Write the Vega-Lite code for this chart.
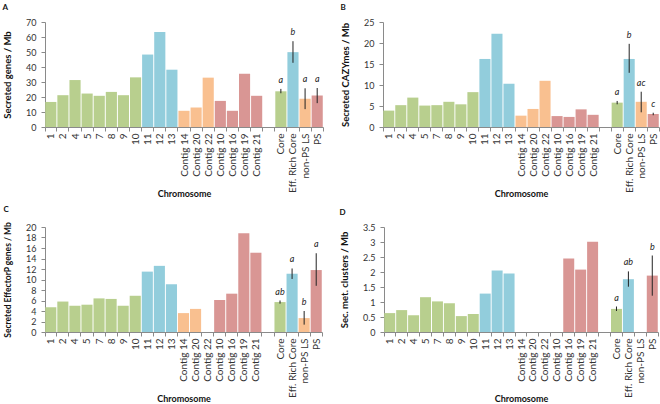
{
  "$schema": "https://vega.github.io/schema/vega-lite/v6.json",
  "padding": {"left": 2, "top": 4, "right": 2, "bottom": 0},
  "background": "white",
  "datasets": {
    "A": [
      {"c": "1", "g": "green", "v": 16.7}, {"c": "2", "g": "green", "v": 21.2}, {"c": "4", "g": "green", "v": 31.3}, {"c": "5", "g": "green", "v": 22.3},
      {"c": "7", "g": "green", "v": 20.8}, {"c": "8", "g": "green", "v": 23.4}, {"c": "9", "g": "green", "v": 21.2}, {"c": "10", "g": "green", "v": 33.1},
      {"c": "11", "g": "blue", "v": 48.3}, {"c": "12", "g": "blue", "v": 63.4}, {"c": "13", "g": "blue", "v": 38.2},
      {"c": "Contig 14", "g": "orange", "v": 10.8}, {"c": "Contig 20", "g": "orange", "v": 13.0}, {"c": "Contig 22", "g": "orange", "v": 32.9},
      {"c": "Contig 10", "g": "red", "v": 17.4}, {"c": "Contig 16", "g": "red", "v": 10.8}, {"c": "Contig 19", "g": "red", "v": 35.5}, {"c": "Contig 21", "g": "red", "v": 20.8},
      {"c": "Core", "g": "green", "v": 23.8, "lo": 22.5, "hi": 25.4, "l": "a"},
      {"c": "Eff. Rich Core", "g": "blue", "v": 49.9, "lo": 42.8, "hi": 57.2, "l": "b"},
      {"c": "non-PS LS", "g": "orange", "v": 18.8, "lo": 11.9, "hi": 25.8, "l": "a"},
      {"c": "PS", "g": "red", "v": 21.0, "lo": 15.9, "hi": 26.0, "l": "a"}
    ],
    "B": [
      {"c": "1", "g": "green", "v": 3.9}, {"c": "2", "g": "green", "v": 5.2}, {"c": "4", "g": "green", "v": 7.0}, {"c": "5", "g": "green", "v": 5.1},
      {"c": "7", "g": "green", "v": 5.2}, {"c": "8", "g": "green", "v": 6.0}, {"c": "9", "g": "green", "v": 5.4}, {"c": "10", "g": "green", "v": 8.3},
      {"c": "11", "g": "blue", "v": 16.2}, {"c": "12", "g": "blue", "v": 22.2}, {"c": "13", "g": "blue", "v": 10.3},
      {"c": "Contig 14", "g": "orange", "v": 2.7}, {"c": "Contig 20", "g": "orange", "v": 4.3}, {"c": "Contig 22", "g": "orange", "v": 11.0},
      {"c": "Contig 10", "g": "red", "v": 2.6}, {"c": "Contig 16", "g": "red", "v": 2.4}, {"c": "Contig 19", "g": "red", "v": 4.2}, {"c": "Contig 21", "g": "red", "v": 2.9},
      {"c": "Core", "g": "green", "v": 5.8, "lo": 5.4, "hi": 6.2, "l": "a"},
      {"c": "Eff. Rich Core", "g": "blue", "v": 16.2, "lo": 12.9, "hi": 19.8, "l": "b"},
      {"c": "non-PS LS", "g": "orange", "v": 6.0, "lo": 3.5, "hi": 8.4, "l": "ac"},
      {"c": "PS", "g": "red", "v": 3.1, "lo": 2.8, "hi": 3.4, "l": "c"}
    ],
    "C": [
      {"c": "1", "g": "green", "v": 4.7}, {"c": "2", "g": "green", "v": 5.8}, {"c": "4", "g": "green", "v": 5.0}, {"c": "5", "g": "green", "v": 5.2},
      {"c": "7", "g": "green", "v": 6.4}, {"c": "8", "g": "green", "v": 6.3}, {"c": "9", "g": "green", "v": 5.0}, {"c": "10", "g": "green", "v": 6.9},
      {"c": "11", "g": "blue", "v": 11.5}, {"c": "12", "g": "blue", "v": 12.6}, {"c": "13", "g": "blue", "v": 9.1},
      {"c": "Contig 14", "g": "orange", "v": 3.6}, {"c": "Contig 20", "g": "orange", "v": 4.4}, {"c": "Contig 22", "g": "orange", "v": 0},
      {"c": "Contig 10", "g": "red", "v": 6.1}, {"c": "Contig 16", "g": "red", "v": 7.3}, {"c": "Contig 19", "g": "red", "v": 18.8}, {"c": "Contig 21", "g": "red", "v": 15.1},
      {"c": "Core", "g": "green", "v": 5.7, "lo": 5.4, "hi": 6.0, "l": "ab"},
      {"c": "Eff. Rich Core", "g": "blue", "v": 11.1, "lo": 10.1, "hi": 12.1, "l": "a"},
      {"c": "non-PS LS", "g": "orange", "v": 2.65, "lo": 1.4, "hi": 4.0, "l": "b"},
      {"c": "PS", "g": "red", "v": 11.8, "lo": 8.8, "hi": 15.0, "l": "a"}
    ],
    "D": [
      {"c": "1", "g": "green", "v": 0.63}, {"c": "2", "g": "green", "v": 0.73}, {"c": "4", "g": "green", "v": 0.56}, {"c": "5", "g": "green", "v": 1.16},
      {"c": "7", "g": "green", "v": 1.02}, {"c": "8", "g": "green", "v": 0.96}, {"c": "9", "g": "green", "v": 0.53}, {"c": "10", "g": "green", "v": 0.60},
      {"c": "11", "g": "blue", "v": 1.28}, {"c": "12", "g": "blue", "v": 2.05}, {"c": "13", "g": "blue", "v": 1.95},
      {"c": "Contig 14", "g": "orange", "v": 0}, {"c": "Contig 20", "g": "orange", "v": 0}, {"c": "Contig 22", "g": "orange", "v": 0},
      {"c": "Contig 10", "g": "red", "v": 0}, {"c": "Contig 16", "g": "red", "v": 2.45}, {"c": "Contig 19", "g": "red", "v": 2.08}, {"c": "Contig 21", "g": "red", "v": 3.01},
      {"c": "Core", "g": "green", "v": 0.77, "lo": 0.70, "hi": 0.85, "l": "a"},
      {"c": "Eff. Rich Core", "g": "blue", "v": 1.76, "lo": 1.51, "hi": 2.02, "l": "ab"},
      {"c": "non-PS LS", "g": "orange", "v": 0},
      {"c": "PS", "g": "red", "v": 1.88, "lo": 1.21, "hi": 2.55, "l": "b"}
    ]
  },
  "spacing": 7,
  "vconcat": [
    {
      "spacing": 16,
      "hconcat": [
        {
          "title": "A",
          "width": 278, "height": 105,
          "data": {"name": "A"},
          "encoding": {
            "x": {"field": "c", "type": "nominal", "title": "Chromosome",
              "sort": ["1","2","4","5","7","8","9","10","11","12","13","Contig 14","Contig 20","Contig 22","Contig 10","Contig 16","Contig 19","Contig 21","gap","Core","Eff. Rich Core","non-PS LS","PS"],
              "scale": {"domain": ["1","2","4","5","7","8","9","10","11","12","13","Contig 14","Contig 20","Contig 22","Contig 10","Contig 16","Contig 19","Contig 21","gap","Core","Eff. Rich Core","non-PS LS","PS"], "paddingInner": 0.08, "paddingOuter": 0.02},
              "axis": {"labelExpr": "datum.value == 'gap' ? '' : datum.value"}}
          },
          "layer": [
            {"mark": {"type": "bar"},
             "encoding": {
               "y": {"field": "v", "type": "quantitative", "title": "Secreted genes / Mb", "scale": {"domain": [0, 70], "nice": false}, "axis": {"values": [0,10,20,30,40,50,60,70]}},
               "color": {"field": "g", "type": "nominal", "scale": {"domain": ["green","blue","orange","red"], "range": ["#B8CF8E","#92CDDC","#F9C090","#D99694"]}, "legend": null}}},
            {"transform": [{"filter": "isValid(datum.lo)"}],
             "mark": {"type": "rule", "color": "#222", "strokeWidth": 1},
             "encoding": {"y": {"field": "lo", "type": "quantitative", "title": "Secreted genes / Mb", "scale": {"domain": [0, 70], "nice": false}, "axis": {"values": [0,10,20,30,40,50,60,70]}}, "y2": {"field": "hi"}}},
            {"transform": [{"filter": "isValid(datum.l)"}],
             "mark": {"type": "text", "fontStyle": "italic", "fontSize": 9, "baseline": "alphabetic", "dy": -6, "color": "#222"},
             "encoding": {"y": {"field": "hi", "type": "quantitative", "title": "Secreted genes / Mb", "scale": {"domain": [0, 70], "nice": false}, "axis": {"values": [0,10,20,30,40,50,60,70]}}, "text": {"field": "l"}}}
          ]
        },
        {
          "title": "B",
          "width": 276, "height": 105,
          "data": {"name": "B"},
          "encoding": {
            "x": {"field": "c", "type": "nominal", "title": "Chromosome",
              "sort": ["1","2","4","5","7","8","9","10","11","12","13","Contig 14","Contig 20","Contig 22","Contig 10","Contig 16","Contig 19","Contig 21","gap","Core","Eff. Rich Core","non-PS LS","PS"],
              "scale": {"domain": ["1","2","4","5","7","8","9","10","11","12","13","Contig 14","Contig 20","Contig 22","Contig 10","Contig 16","Contig 19","Contig 21","gap","Core","Eff. Rich Core","non-PS LS","PS"], "paddingInner": 0.08, "paddingOuter": 0.02},
              "axis": {"labelExpr": "datum.value == 'gap' ? '' : datum.value"}}
          },
          "layer": [
            {"mark": {"type": "bar"},
             "encoding": {
               "y": {"field": "v", "type": "quantitative", "title": "Secreted CAZYmes / Mb", "scale": {"domain": [0, 25], "nice": false}, "axis": {"values": [0,5,10,15,20,25]}},
               "color": {"field": "g", "type": "nominal", "scale": {"domain": ["green","blue","orange","red"], "range": ["#B8CF8E","#92CDDC","#F9C090","#D99694"]}, "legend": null}}},
            {"transform": [{"filter": "isValid(datum.lo)"}],
             "mark": {"type": "rule", "color": "#222", "strokeWidth": 1},
             "encoding": {"y": {"field": "lo", "type": "quantitative", "title": "Secreted CAZYmes / Mb", "scale": {"domain": [0, 25], "nice": false}, "axis": {"values": [0,5,10,15,20,25]}}, "y2": {"field": "hi"}}},
            {"transform": [{"filter": "isValid(datum.l)"}],
             "mark": {"type": "text", "fontStyle": "italic", "fontSize": 9, "baseline": "alphabetic", "dy": -6, "color": "#222"},
             "encoding": {"y": {"field": "hi", "type": "quantitative", "title": "Secreted CAZYmes / Mb", "scale": {"domain": [0, 25], "nice": false}, "axis": {"values": [0,5,10,15,20,25]}}, "text": {"field": "l"}}}
          ]
        }
      ]
    },
    {
      "spacing": 16,
      "hconcat": [
        {
          "title": "C",
          "width": 277, "height": 105,
          "data": {"name": "C"},
          "encoding": {
            "x": {"field": "c", "type": "nominal", "title": "Chromosome",
              "sort": ["1","2","4","5","7","8","9","10","11","12","13","Contig 14","Contig 20","Contig 22","Contig 10","Contig 16","Contig 19","Contig 21","gap","Core","Eff. Rich Core","non-PS LS","PS"],
              "scale": {"domain": ["1","2","4","5","7","8","9","10","11","12","13","Contig 14","Contig 20","Contig 22","Contig 10","Contig 16","Contig 19","Contig 21","gap","Core","Eff. Rich Core","non-PS LS","PS"], "paddingInner": 0.08, "paddingOuter": 0.02},
              "axis": {"labelExpr": "datum.value == 'gap' ? '' : datum.value"}}
          },
          "layer": [
            {"mark": {"type": "bar"},
             "encoding": {
               "y": {"field": "v", "type": "quantitative", "title": "Secreted EffectorP  genes  / Mb", "scale": {"domain": [0, 20], "nice": false}, "axis": {"values": [0,2,4,6,8,10,12,14,16,18,20], "titleFontSize": 8.5}},
               "color": {"field": "g", "type": "nominal", "scale": {"domain": ["green","blue","orange","red"], "range": ["#B8CF8E","#92CDDC","#F9C090","#D99694"]}, "legend": null}}},
            {"transform": [{"filter": "isValid(datum.lo)"}],
             "mark": {"type": "rule", "color": "#222", "strokeWidth": 1},
             "encoding": {"y": {"field": "lo", "type": "quantitative", "title": "Secreted EffectorP  genes  / Mb", "scale": {"domain": [0, 20], "nice": false}, "axis": {"values": [0,2,4,6,8,10,12,14,16,18,20], "titleFontSize": 8.5}}, "y2": {"field": "hi"}}},
            {"transform": [{"filter": "isValid(datum.l)"}],
             "mark": {"type": "text", "fontStyle": "italic", "fontSize": 9, "baseline": "alphabetic", "dy": -6, "color": "#222"},
             "encoding": {"y": {"field": "hi", "type": "quantitative", "title": "Secreted EffectorP  genes  / Mb", "scale": {"domain": [0, 20], "nice": false}, "axis": {"values": [0,2,4,6,8,10,12,14,16,18,20], "titleFontSize": 8.5}}, "text": {"field": "l"}}}
          ]
        },
        {
          "title": "D",
          "width": 274, "height": 105,
          "data": {"name": "D"},
          "encoding": {
            "x": {"field": "c", "type": "nominal", "title": "Chromosome",
              "sort": ["1","2","4","5","7","8","9","10","11","12","13","Contig 14","Contig 20","Contig 22","Contig 10","Contig 16","Contig 19","Contig 21","gap","Core","Eff. Rich Core","non-PS LS","PS"],
              "scale": {"domain": ["1","2","4","5","7","8","9","10","11","12","13","Contig 14","Contig 20","Contig 22","Contig 10","Contig 16","Contig 19","Contig 21","gap","Core","Eff. Rich Core","non-PS LS","PS"], "paddingInner": 0.08, "paddingOuter": 0.02},
              "axis": {"labelExpr": "datum.value == 'gap' ? '' : datum.value"}}
          },
          "layer": [
            {"mark": {"type": "bar"},
             "encoding": {
               "y": {"field": "v", "type": "quantitative", "title": "Sec. met. clusters  / Mb", "scale": {"domain": [0, 3.5], "nice": false}, "axis": {"values": [0,0.5,1,1.5,2,2.5,3,3.5], "format": "~g"}},
               "color": {"field": "g", "type": "nominal", "scale": {"domain": ["green","blue","orange","red"], "range": ["#B8CF8E","#92CDDC","#F9C090","#D99694"]}, "legend": null}}},
            {"transform": [{"filter": "isValid(datum.lo)"}],
             "mark": {"type": "rule", "color": "#222", "strokeWidth": 1},
             "encoding": {"y": {"field": "lo", "type": "quantitative", "title": "Sec. met. clusters  / Mb", "scale": {"domain": [0, 3.5], "nice": false}, "axis": {"values": [0,0.5,1,1.5,2,2.5,3,3.5], "format": "~g"}}, "y2": {"field": "hi"}}},
            {"transform": [{"filter": "isValid(datum.l)"}],
             "mark": {"type": "text", "fontStyle": "italic", "fontSize": 9, "baseline": "alphabetic", "dy": -6, "color": "#222"},
             "encoding": {"y": {"field": "hi", "type": "quantitative", "title": "Sec. met. clusters  / Mb", "scale": {"domain": [0, 3.5], "nice": false}, "axis": {"values": [0,0.5,1,1.5,2,2.5,3,3.5], "format": "~g"}}, "text": {"field": "l"}}}
          ]
        }
      ]
    }
  ],
  "config": {
    "font": "Lato",
    "view": {"stroke": null},
    "title": {"fontSize": 8, "fontWeight": "bold", "anchor": "start", "frame": "bounds", "offset": 6, "color": "#111"},
    "axis": {"grid": false, "domainColor": "#8a8a8a", "tickColor": "#8a8a8a", "tickSize": 4, "labelColor": "#333", "labelFontSize": 9, "titleFontSize": 9, "titleFontWeight": "bold", "titleColor": "#111"},
    "axisY": {"titlePadding": 13, "labelPadding": 5, "titleFontSize": 9.5},
    "axisX": {"labelAngle": -90, "tickBand": "extent", "labelFontSize": 10, "labelPadding": 2, "titleY": 62}
  }
}
